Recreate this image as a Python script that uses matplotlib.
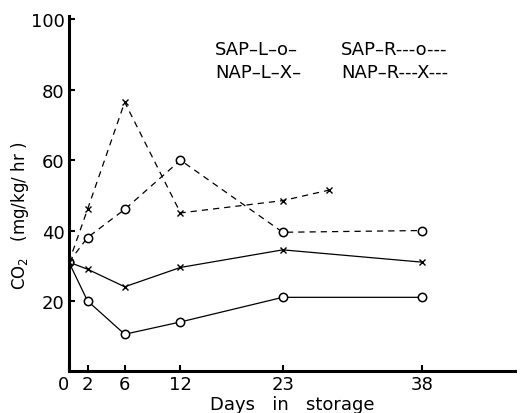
import matplotlib
matplotlib.use("Agg")
import matplotlib.pyplot as plt

# CO2 evolution (mg/kg/hr) vs days in storage
days = [0, 2, 6, 12, 23, 38]
sap_l = [31, 20, 10.5, 14, 21, 21]
nap_l = [31, 29, 24, 29.5, 34.5, 31]
sap_r = [31, 38, 46, 60, 39.5, 40]
nap_r_days = [0, 2, 6, 12, 23, 28]
nap_r = [31, 46, 76.5, 45, 48.5, 51.5]

xticks = [0, 2, 6, 12, 23, 38]
yticks = [20, 40, 60, 80, 100]

fig = plt.figure(figsize=(5.22, 4.14), dpi=100)
ax = fig.add_axes([0.132, 0.101, 0.855, 0.858])

ax.plot(days, sap_l, color="black", lw=0.9, marker="o", ms=6,
        mfc="white", mec="black", mew=1.1)
ax.plot(days, nap_l, color="black", lw=0.9, marker="x", ms=4.5, mew=1.0)
ax.plot(days, sap_r, color="black", lw=0.9, ls=(0, (5, 4)), marker="o", ms=6,
        mfc="white", mec="black", mew=1.1)
ax.plot(nap_r_days, nap_r, color="black", lw=0.9, ls=(0, (5, 4)), marker="x",
        ms=4.5, mew=1.0)

ax.set_xlim(0, 48)
ax.set_ylim(0, 101)
ax.set_xticks(xticks)
ax.set_yticks(yticks)
ax.tick_params(direction="in", length=4, width=1.5, labelsize=13, pad=3)
ax.get_xticklabels()[0].set_ha("right")

for side in ["top", "right"]:
    ax.spines[side].set_visible(False)
for side in ["left", "bottom"]:
    ax.spines[side].set_linewidth(2.2)

ax.set_xlabel("Days   in   storage", fontsize=13, labelpad=1)
ax.set_ylabel("CO$_2$   (mg/kg/ hr )", fontsize=12)
ax.yaxis.set_label_coords(-0.085, 0.44)

# hand-written key
kw = dict(transform=ax.transAxes, fontsize=13, va="center")
ax.text(0.327, 0.907, "SAP–L–o–", **kw)
ax.text(0.327, 0.842, "NAP–L–X–", **kw)
ax.text(0.61, 0.907, "SAP–R---o---", **kw)
ax.text(0.61, 0.842, "NAP–R---X---", **kw)

fig.savefig("out.png", dpi=100)
